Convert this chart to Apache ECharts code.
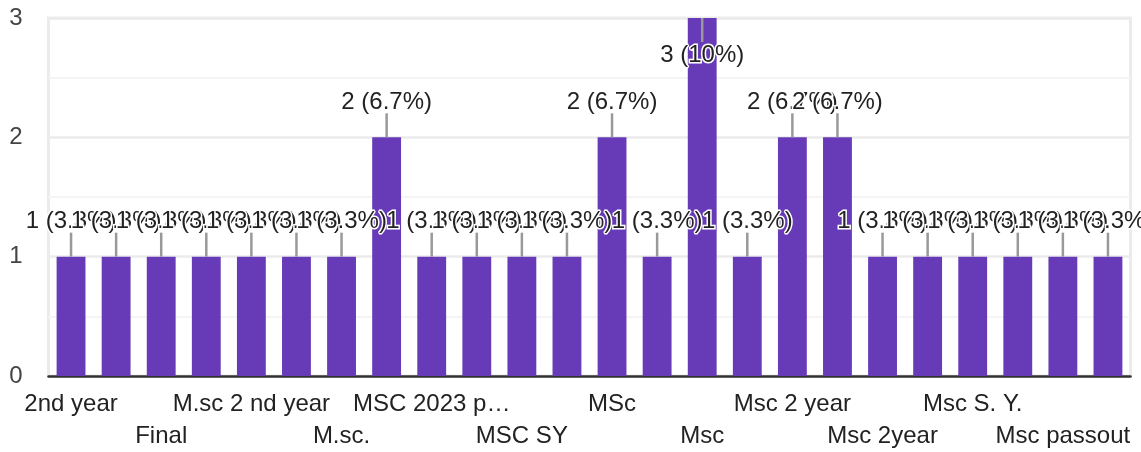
<!DOCTYPE html>
<html>
<head>
<meta charset="utf-8">
<script src="https://cdn.jsdelivr.net/npm/echarts@6/dist/echarts.min.js"></script>
<style>
html,body{margin:0;padding:0;background:#fff;}
#chart{width:1141px;height:452px;}
</style>
</head>
<body>
<div id="chart"></div>
<script>
var categories = [
  "2nd year", "Final year", "Final", "M.sc", "M.sc 2 nd year", "M.sc 2nd year",
  "M.sc.", "MSC", "MSC 2023 passout", "MSC 2nd year", "MSC SY", "MSC SY.",
  "MSc", "MSc 2nd year", "Msc", "Msc 2", "Msc 2 year", "Msc 2nd year",
  "Msc 2year", "Msc Part 2", "Msc S. Y.", "Msc part 2", "Msc passout", "Msc second year"
];
var counts = [1, 1, 1, 1, 1, 1, 1, 2, 1, 1, 1, 1, 2, 1, 3, 1, 2, 2, 1, 1, 1, 1, 1, 1];
var yTicks = [0, 1, 2, 3];

var total = counts.reduce(function (a, b) { return a + b; }, 0);
var yMax = yTicks[yTicks.length - 1];
var FONT = '"Liberation Sans", Arial, sans-serif';
var LABEL_FONT = '24px ' + FONT;

function pctText(v) {
  var p = Math.round(v / total * 1000) / 10;
  return v + ' (' + p + '%)';
}

function fitText(s) {
  try {
    return echarts.format.truncateText(s, 162, LABEL_FONT, '…');
  } catch (e) {
    return s;
  }
}

var barData = counts.map(function (v) {
  var item = { value: v };
  if (v >= yMax) {
    item.label = { position: 'insideTop', distance: 25 };
  }
  return item;
});

var stemData = counts.map(function (v, i) {
  return {
    value: [i, v],
    symbolOffset: [0, v >= yMax ? 12 : -12]
  };
});

function labelAxis(row, margin, showLine) {
  return {
    type: 'category',
    data: categories,
    position: 'bottom',
    offset: 0,
    axisTick: { show: false },
    axisLine: { show: showLine, onZero: false, lineStyle: { color: '#333', width: 2.5 } },
    splitLine: { show: false },
    axisLabel: {
      interval: function (index) { return index % 4 === row * 2; },
      hideOverlap: false,
      fontFamily: FONT,
      fontSize: 24,
      lineHeight: 32,
      margin: margin,
      color: '#222',
      formatter: function (value) { return fitText(value); }
    }
  };
}

var chart = echarts.init(document.getElementById('chart'), null, { renderer: 'canvas' });
chart.setOption({
  animation: false,
  backgroundColor: '#fff',
  grid: {
    left: 48.5, right: 10.5, top: 18, bottom: 76,
    outerBoundsMode: 'none',
    containLabel: false,
    show: true, borderColor: '#ebebeb', borderWidth: 3, backgroundColor: 'transparent'
  },
  xAxis: [labelAxis(0, 12, true), labelAxis(1, 44, false)],
  yAxis: {
    type: 'value',
    min: yTicks[0],
    max: yMax,
    interval: 1,
    axisLine: { show: false },
    axisTick: { show: false },
    axisLabel: { fontFamily: FONT, fontSize: 24, color: '#444', margin: 26 },
    splitLine: { lineStyle: { color: '#ebebeb', width: 2.5 } },
    minorTick: { show: false, splitNumber: 2 },
    minorSplitLine: { show: true, lineStyle: { color: '#f4f4f4', width: 2 } }
  },
  series: [
    {
      type: 'bar',
      xAxisIndex: 0,
      data: barData,
      barWidth: '64%',
      itemStyle: { color: '#673ab7' },
      silent: true,
      z: 2,
      label: {
        show: true,
        position: 'top',
        distance: 23,
        fontFamily: FONT,
        fontSize: 24,
        lineHeight: 24,
        color: '#222',
        textBorderColor: '#fff',
        textBorderWidth: 3,
        formatter: function (p) { return pctText(p.value); }
      }
    },
    {
      type: 'scatter',
      xAxisIndex: 0,
      data: stemData,
      symbol: 'rect',
      symbolSize: [2.5, 24],
      itemStyle: { color: '#999', opacity: 1 },
      silent: true,
      z: 3
    }
  ]
});
</script>
</body>
</html>
